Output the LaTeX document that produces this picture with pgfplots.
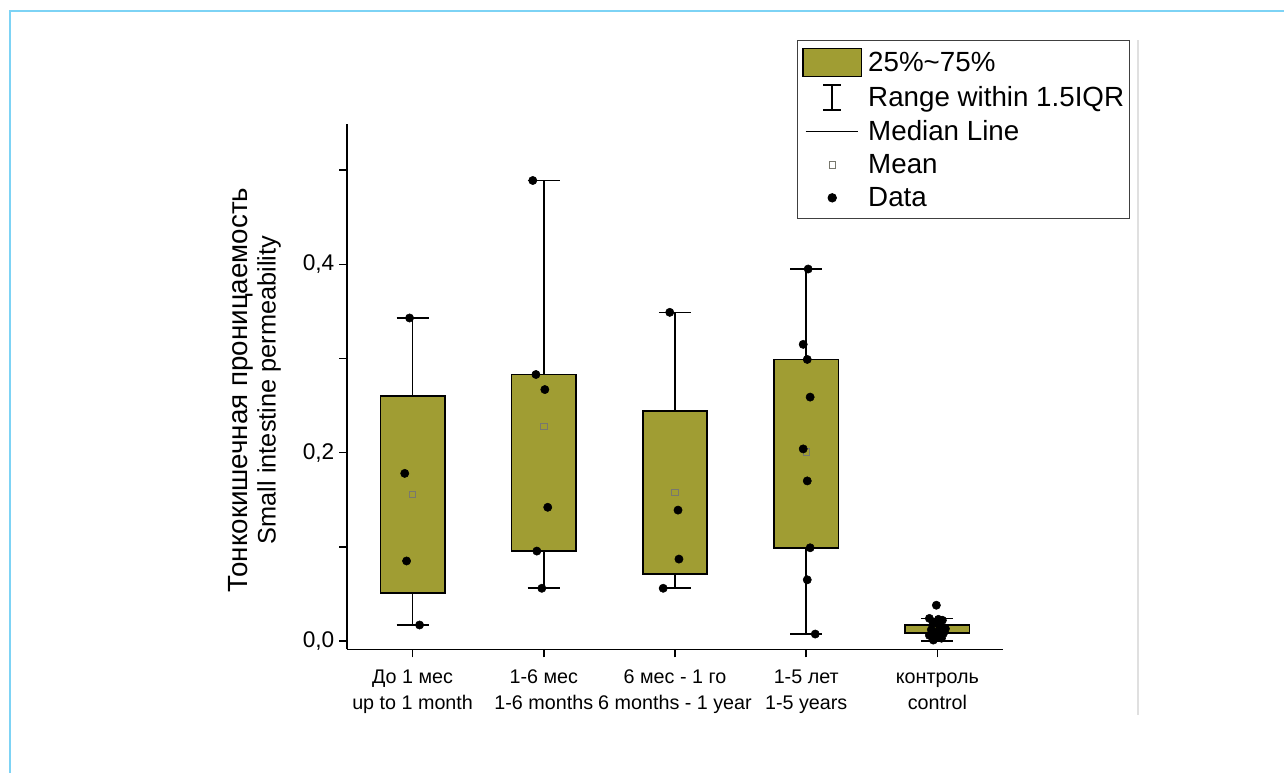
\documentclass[border=0pt]{standalone}
\usepackage{fontspec}
\setmainfont{Liberation Sans}
\usepackage{pgfplots}
\pgfplotsset{compat=1.18}
\definecolor{boxcol}{RGB}{160,157,51}
\definecolor{framecol}{RGB}{125,211,245}
\definecolor{meancol}{RGB}{120,120,110}
\begin{document}
\begin{tikzpicture}
\path[use as bounding box] (0,0) rectangle (963pt,579.75pt);
\draw[framecol, line width=1.6pt] (7.5pt,0) -- (7.5pt,571.5pt) -- (963pt,571.5pt);
\draw[black!12, line width=0.8pt] (853.5pt,43.5pt) -- (853.5pt,549.75pt);
\node[rotate=90, align=center, inner sep=0pt] at (191pt,287.25pt)
  {\fontsize{20.8}{22.5}\selectfont Тонкокишечная проницаемость\\[2pt]\fontsize{19}{22}\selectfont Small intestine permeability};
\begin{axis}[
  at={(260.25pt,92.625pt)}, anchor=south west,
  scale only axis, width=492pt, height=394.125pt,
  xmin=0.5, xmax=5.5, ymin=-0.009, ymax=0.549,
  clip=false,
  axis x line*=bottom, axis y line*=left,
  axis line style={line width=1.3pt},
  xtick={1,2,3,4,5},
  xticklabels={{\strut До 1 мес\\\strut up to 1 month},{\strut 1-6 мес\\\strut 1-6 months},{\strut 6 мес - 1 го\\\strut 6 months - 1 year},{\strut 1-5 лет\\\strut 1-5 years},{\strut контроль\\\strut control}},
  xticklabel style={align=center, font=\fontsize{14.8}{19.8}\selectfont, yshift=-2pt},
  ytick={0,0.2,0.4}, minor ytick={0.1,0.3,0.5},
  yticklabel style={font=\fontsize{17}{19}\selectfont},
  yticklabel={\pgfmathprintnumber[use comma, fixed, fixed zerofill, precision=1, assume math mode=true]{\tick}},
  tick align=outside, tick style={line width=1.2pt, black},
  major tick length=6pt, minor tick length=6pt,
  unbounded coords=jump,
  legend cell align=left,
  legend style={at={(rel axis cs:0.686,1.16)}, anchor=north west,
    draw=black!75, line width=0.8pt, font=\fontsize{20.8}{24}\selectfont,
    inner xsep=2pt, inner ysep=5.5pt, row sep=4.8pt},
]
% whiskers (stems and caps)
\addplot[forget plot, black, line width=1.2pt] coordinates {
 (1,0.017) (1,0.051) (nan,nan) (1,0.260) (1,0.343) (nan,nan) (0.8775,0.343) (1.1225,0.343) (nan,nan) (0.8775,0.017) (1.1225,0.017) (nan,nan)
 (2,0.056) (2,0.0955) (nan,nan) (2,0.283) (2,0.489) (nan,nan) (1.8775,0.489) (2.1225,0.489) (nan,nan) (1.8775,0.056) (2.1225,0.056) (nan,nan)
 (3,0.056) (3,0.071) (nan,nan) (3,0.244) (3,0.349) (nan,nan) (2.8775,0.349) (3.1225,0.349) (nan,nan) (2.8775,0.056) (3.1225,0.056) (nan,nan)
 (4,0.0074) (4,0.099) (nan,nan) (4,0.299) (4,0.395) (nan,nan) (3.8775,0.395) (4.1225,0.395) (nan,nan) (3.8775,0.0074) (4.1225,0.0074) (nan,nan)
 (5,0.0) (5,0.0085) (nan,nan) (5,0.017) (5,0.024) (nan,nan) (4.8775,0.024) (5.1225,0.024) (nan,nan) (4.8775,0.0) (5.1225,0.0)};
% boxes (lower quartile to upper quartile)
\addplot[forget plot, fill=boxcol, draw=black, line width=1.2pt] coordinates {(0.755,0.051) (1.245,0.051) (1.245,0.260) (0.755,0.260)} -- cycle;
\addplot[forget plot, fill=boxcol, draw=black, line width=1.2pt] coordinates {(1.755,0.0955) (2.245,0.0955) (2.245,0.283) (1.755,0.283)} -- cycle;
\addplot[forget plot, fill=boxcol, draw=black, line width=1.2pt] coordinates {(2.755,0.071) (3.245,0.071) (3.245,0.244) (2.755,0.244)} -- cycle;
\addplot[forget plot, fill=boxcol, draw=black, line width=1.2pt] coordinates {(3.755,0.099) (4.245,0.099) (4.245,0.299) (3.755,0.299)} -- cycle;
\addplot[forget plot, fill=boxcol, draw=black, line width=1.2pt] coordinates {(4.755,0.0085) (5.245,0.0085) (5.245,0.017) (4.755,0.017)} -- cycle;
% means
\addplot[forget plot, only marks, mark=square, mark size=2.4pt, mark options={draw=meancol, line width=0.6pt, fill=none}] coordinates {
 (1,0.156) (2,0.228) (3,0.158) (4,0.201) (5,0.013)};
% data
\addplot[forget plot, only marks, mark=*, mark size=3.1pt, black] coordinates {
 (0.977,0.343) (0.94,0.178) (0.954,0.085) (1.053,0.017)
 (1.916,0.489) (1.94,0.283) (2.008,0.267) (2.03,0.142) (1.947,0.0955) (1.985,0.056)
 (2.96,0.349) (3.023,0.139) (3.03,0.087) (2.91,0.056)
 (4.015,0.395) (3.977,0.315) (4.008,0.299) (4.03,0.259) (3.977,0.204) (4.008,0.170) (4.03,0.099) (4.008,0.065) (4.069,0.0074)
 (4.992,0.038) (4.939,0.024) (5.008,0.023) (5.038,0.022) (4.969,0.019) (5.015,0.016) (5.061,0.013) (4.954,0.012) (5.0,0.010) (5.046,0.008) (4.939,0.006) (4.985,0.004) (5.031,0.003) (4.969,0.001)};
% legend
\addlegendimage{legend image code/.code={\path[draw=none,fill=none] (0pt,-11pt) rectangle (49pt,11pt); \draw[fill=boxcol, draw=black, line width=1.2pt] (2pt,-10.5pt) rectangle (46pt,10.5pt);}}
\addlegendentry{25\%\textasciitilde{}75\%}
\addlegendimage{legend image code/.code={\path[draw=none,fill=none] (0pt,-10pt) rectangle (49pt,10pt); \draw[black, line width=1.1pt] (24pt,-9.5pt) -- (24pt,9.5pt) (17.25pt,9.5pt) -- (30.75pt,9.5pt) (17.25pt,-9.5pt) -- (30.75pt,-9.5pt);}}
\addlegendentry{Range within 1.5IQR}
\addlegendimage{legend image code/.code={\path[draw=none,fill=none] (0pt,-10pt) rectangle (49pt,10pt); \draw[black, line width=1.1pt] (4pt,0pt) -- (43pt,0pt);}}
\addlegendentry{Median Line}
\addlegendimage{legend image code/.code={\path[draw=none,fill=none] (0pt,-10pt) rectangle (49pt,10pt); \draw[meancol, line width=0.6pt, fill=none] (21.6pt,-2.4pt) rectangle (26.4pt,2.4pt);}}
\addlegendentry{Mean}
\addlegendimage{legend image code/.code={\path[draw=none,fill=none] (0pt,-10pt) rectangle (49pt,10pt); \fill[black] (24pt,0pt) circle (3.1pt);}}
\addlegendentry{Data}
\end{axis}
\end{tikzpicture}
\end{document}
